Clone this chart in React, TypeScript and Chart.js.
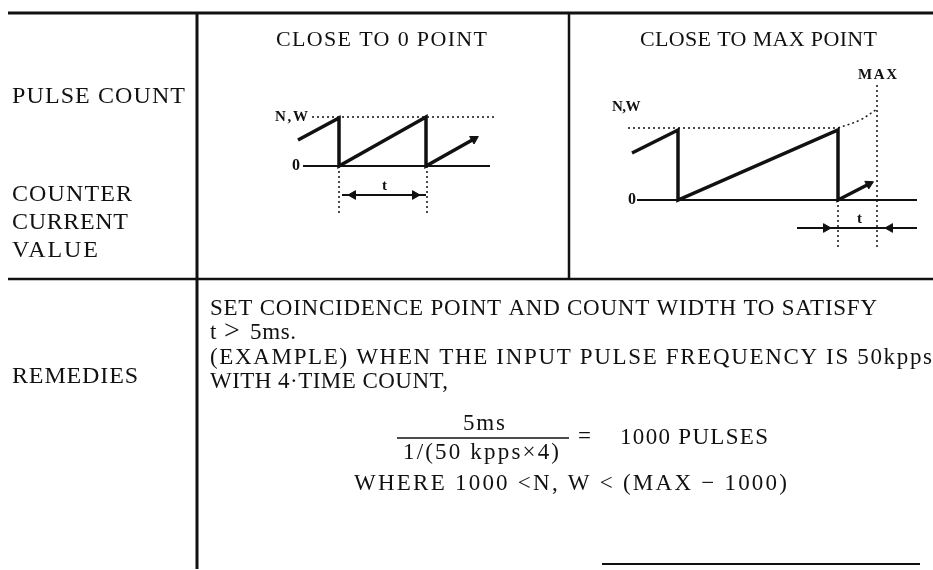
import React, { useEffect, useRef } from "react";
import { Chart, registerables } from "chart.js";

Chart.register(...registerables);

// ---------- data (page coordinate units of the chart's linear scales) ----------
const tableTop = [[8, 13], [933, 13]];
const tableLeftRule = [[197, 13], [197, 569]];
const tableMidRule = [[569, 13], [569, 279]];
const tableDivider = [[8, 279], [933, 279]];
const tableBottom = [[602, 564], [920, 564]];

const sawLeft = [[298, 140], [339, 118], [339, 166], [426, 117], [426, 166], [474, 139]];
const sawRight = [[632, 153], [678, 130], [678, 200], [838, 130], [838, 200], [869, 184]];

const baseLeft = [[303, 166], [490, 166]];
const baseRight = [[637, 200], [917, 200]];

const dotLeftTop = [[312, 117], [497, 117]];
const dotLeftV1 = [[339, 166], [339, 213]];
const dotLeftV2 = [[427, 166], [427, 213]];
const dotRightTop = [[628, 128], [838, 128]];
const dotRightCurve = [[838, 128], [860, 120], [877, 109]];
const dotRightMax = [[877, 85], [877, 248]];
const dotRightV = [[838, 200], [838, 248]];

const tLeftLine = [[342, 195], [426, 195]];
const tRightLine = [[797, 228], [917, 228]];

// arrowheads: [x, y, rotation deg]
const arrowHeads = [
  [474, 139, 60],
  [869, 184, 63],
  [353, 195, 270],
  [415, 195, 90],
  [826, 228, 90],
  [890, 228, 270],
];

const texts = [
  { t: "CLOSE TO 0 POINT", x: 276, y: 40, w: 211, s: 22 },
  { t: "CLOSE TO MAX POINT", x: 640, y: 40, w: 237, s: 22 },
  { t: "PULSE COUNT", x: 12, y: 97, w: 173, s: 24 },
  { t: "COUNTER", x: 12, y: 195, w: 120, s: 24 },
  { t: "CURRENT", x: 12, y: 223, w: 116, s: 24 },
  { t: "VALUE", x: 12, y: 251, w: 86, s: 24 },
  { t: "REMEDIES", x: 12, y: 377, w: 126, s: 24 },
  { t: "N,W", x: 275, y: 117, w: 33, s: 15, b: true },
  { t: "0", x: 292, y: 166, s: 16, b: true },
  { t: "t", x: 382, y: 186, s: 15, b: true },
  { t: "MAX", x: 858, y: 75, w: 39, s: 15, b: true },
  { t: "N,W", x: 612, y: 107, w: 28, s: 15, b: true },
  { t: "0", x: 628, y: 200, s: 16, b: true },
  { t: "t", x: 857, y: 219, s: 15, b: true },
  { t: "SET COINCIDENCE POINT AND COUNT WIDTH TO SATISFY", x: 210, y: 309, w: 667, s: 23 },
  { t: "t", x: 210, y: 333, s: 23 },
  { t: ">", x: 224, y: 332, s: 28 },
  { t: "5ms.", x: 250, y: 333, w: 46, s: 23 },
  { t: "(EXAMPLE) WHEN THE INPUT PULSE FREQUENCY IS 50kpps", x: 210, y: 358, w: 722, s: 23 },
  { t: "WITH 4·TIME COUNT,", x: 210, y: 382, w: 238, s: 23 },
  { t: "5ms", x: 463, y: 424, w: 42, s: 23 },
  { t: "1/(50 kpps×4)", x: 403, y: 453, w: 156, s: 23 },
  { t: "=", x: 578, y: 437, s: 23 },
  { t: "1000 PULSES", x: 620, y: 438, w: 148, s: 23 },
  { t: "WHERE 1000 <N, W < (MAX − 1000)", x: 354, y: 484, w: 433, s: 23 },
];

const fractionBar = [[397, 438], [569, 438]];

// ---------- helpers ----------
const toPts = (a: number[][]) => a.map(([x, y]) => ({ x, y }));

function lineDs(pts: number[][], width: number, dash: number[] = [], tension = 0) {
  return {
    type: "line" as const,
    data: toPts(pts),
    borderColor: "#111",
    borderWidth: width,
    borderDash: dash,
    borderCapStyle: "butt" as const,
    borderJoinStyle: "miter" as const,
    pointRadius: 0,
    tension,
    fill: false,
    clip: false,
  };
}

const textPlugin = {
  id: "texts",
  afterDatasetsDraw(chart: any) {
    const { ctx, scales } = chart;
    ctx.save();
    ctx.fillStyle = "#111";
    ctx.textBaseline = "middle";
    ctx.textAlign = "left";
    for (const it of texts as any[]) {
      ctx.font = `${it.b ? "bold " : ""}${it.s}px "Liberation Serif", "DejaVu Serif", serif`;
      (ctx as any).letterSpacing = "0px";
      const px = scales.x.getPixelForValue(it.x);
      const py = scales.y.getPixelForValue(it.y);
      if (it.w) {
        const m = ctx.measureText(it.t).width;
        const n = it.t.length;
        let ls = (it.w - m) / Math.max(1, n - 1);
        if (ls < -0.6) ls = -0.6;
        (ctx as any).letterSpacing = `${ls}px`;
      }
      ctx.fillText(it.t, px, py);
    }
    (ctx as any).letterSpacing = "0px";
    ctx.restore();
  },
};

export default function App() {
  const ref = useRef<HTMLCanvasElement | null>(null);
  useEffect(() => {
    if (!ref.current) return;
    const datasets: any[] = [
      lineDs(tableTop, 3),
      lineDs(tableLeftRule, 3),
      lineDs(tableMidRule, 2.5),
      lineDs(tableDivider, 2.5),
      lineDs(tableBottom, 2),
      lineDs(sawLeft, 3.5),
      lineDs(sawRight, 3.5),
      lineDs(baseLeft, 2),
      lineDs(baseRight, 2),
      lineDs(dotLeftTop, 1.5, [2, 3]),
      lineDs(dotLeftV1, 1.5, [2, 3]),
      lineDs(dotLeftV2, 1.5, [2, 3]),
      lineDs(dotRightTop, 1.5, [2, 3]),
      lineDs(dotRightCurve, 1.5, [2, 3], 0.4),
      lineDs(dotRightMax, 1.5, [2, 3]),
      lineDs(dotRightV, 1.5, [2, 3]),
      lineDs(tLeftLine, 2),
      lineDs(tRightLine, 2),
      lineDs(fractionBar, 1.5),
      {
        type: "scatter",
        data: arrowHeads.map(([x, y]) => ({ x, y })),
        pointStyle: "triangle",
        pointRotation: arrowHeads.map((a) => a[2]),
        pointRadius: 5,
        backgroundColor: "#111",
        borderColor: "#111",
        borderWidth: 1,
        clip: false,
      },
    ];
    const chart = new Chart(ref.current, {
      type: "line",
      data: { datasets },
      options: {
        animation: false,
        responsive: false,
        events: [],
        layout: { padding: 0, autoPadding: false },
        plugins: { legend: { display: false }, tooltip: { enabled: false } },
        scales: {
          x: { type: "linear", min: 0, max: 933, display: false },
          y: { type: "linear", min: 0, max: 570, reverse: true, display: false },
        },
      },
      plugins: [textPlugin],
    });
    return () => chart.destroy();
  }, []);
  return (
    <div style={{ position: "absolute", left: 0, top: 0, width: 933, height: 570, background: "#fff" }}>
      <canvas ref={ref} width={933} height={570} style={{ display: "block" }} />
    </div>
  );
}
